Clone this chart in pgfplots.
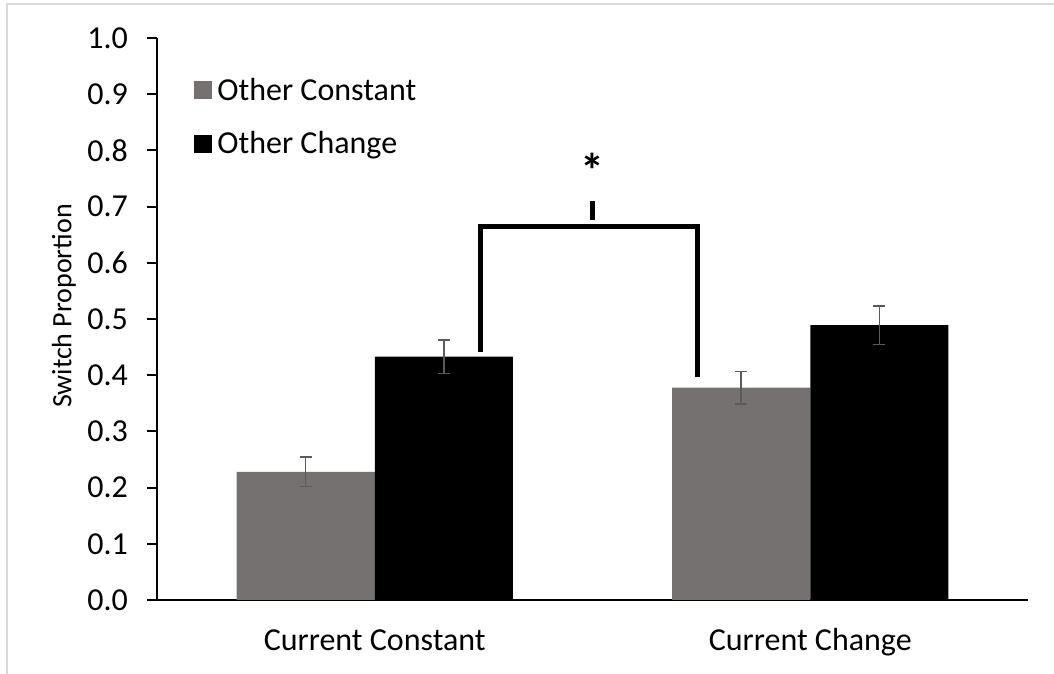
\documentclass[border=0pt]{standalone}
\usepackage{pgfplots}
\pgfplotsset{compat=1.18}
\usepackage{fontspec}
\setmainfont{Carlito}
\definecolor{bargray}{RGB}{118,113,113}
\definecolor{errgray}{RGB}{90,90,90}
\definecolor{framegray}{RGB}{217,217,217}
\begin{document}
\begin{tikzpicture}
\path[use as bounding box] (0,0) rectangle (527pt,337pt);
\draw[framegray, line width=1pt] (3.5pt,0) -- (3.5pt,335pt) -- (527pt,335pt);
\begin{axis}[
  at={(78.5pt,37pt)}, anchor=south west,
  scale only axis, width=435.5pt, height=281pt,
  xmin=-0.5, xmax=1.5, ymin=0, ymax=1,
  xtick={0,1}, xticklabels={Current Constant, Current Change},
  ytick={0,0.1,...,1.0},
  axis line style={line width=1pt},
  tick align=outside, major tick length=5pt,
  ytick style={line width=1pt, black},
  xtick style={draw=none},
  axis x line*=bottom, axis y line*=left,
  separate axis lines,
  ticklabel style={font=\fontsize{16}{19}\selectfont},
  yticklabel style={xshift=-6pt, /pgf/number format/.cd, fixed, fixed zerofill, precision=1, assume math mode=true},
  xticklabel style={anchor=base, yshift=-20.5pt},
  ylabel={Switch Proportion},
  ylabel style={font=\fontsize{14}{17}\selectfont, at={(axis description cs:-0.107,0.523)}, anchor=center},
  legend style={draw=none, fill=none, at={(0.0425,0.937)}, anchor=north west, font=\fontsize{16}{19}\selectfont, row sep=10pt, inner sep=0pt},
  legend cell align=left,
  legend image code/.code={\fill[#1] (0pt,-4.5pt) rectangle (9pt,4.5pt); \path (9.5pt,0pt);},
]
\addplot[ybar, bar width=0.317, bar shift=0, fill=bargray, draw=none,
  error bars/.cd, y dir=both, y explicit,
  error bar style={errgray, line width=0.75pt},
  error mark options={errgray, rotate=90, mark size=3pt, line width=0.75pt}]
  coordinates {(-0.1585,0.228) +- (0,0.026) (0.8415,0.378) +- (0,0.029)};
\addlegendentry{Other Constant}
\addplot[ybar, bar width=0.317, bar shift=0, fill=black, draw=none,
  error bars/.cd, y dir=both, y explicit,
  error bar style={errgray, line width=0.75pt},
  error mark options={errgray, rotate=90, mark size=3pt, line width=0.75pt}]
  coordinates {(0.1585,0.433) +- (0,0.03) (1.1585,0.489) +- (0,0.034)};
\addlegendentry{Other Change}
\addplot[black, line width=2.5pt, mark=none, line join=miter, forget plot]
  coordinates {(0.2417,0.441) (0.2417,0.665) (0.740,0.665) (0.740,0.396)};
\addplot[black, line width=2.5pt, mark=none, forget plot]
  coordinates {(0.5,0.676) (0.5,0.71)};
\node[font=\bfseries\fontsize{24}{28}\selectfont] at (axis cs:0.5,0.765) {*};
\end{axis}
\end{tikzpicture}
\end{document}
